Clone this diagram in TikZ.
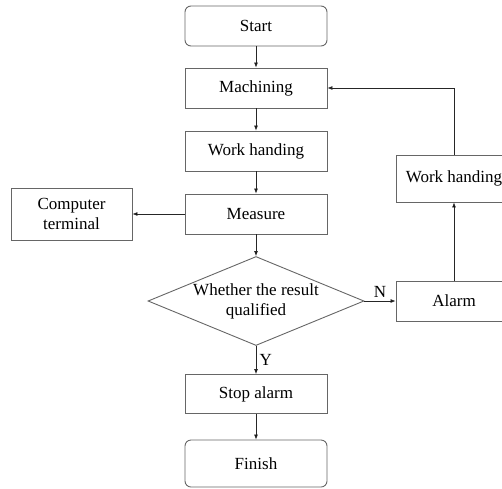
\documentclass[tikz,border=0pt]{standalone}
\usepackage{fontspec}
\setmainfont{Liberation Serif}
\usetikzlibrary{positioning, shapes.geometric, arrows.meta}

\begin{document}
\begin{tikzpicture}[x=1pt,y=-1pt,on grid,auto,font=\fontsize{17}{20}\selectfont,
    >={Latex[length=5pt,width=4pt]}]
    \tikzstyle{proc}=[shape=rectangle,draw=black!60,line width=0.9pt,minimum width=142pt,minimum height=40pt,inner sep=2pt,align=center]
    \tikzstyle{term}=[proc,rounded corners=6pt]
    \tikzstyle{side}=[proc,minimum width=116pt]
    \tikzstyle{decide}=[shape=diamond,draw=black!60,line width=0.9pt,aspect=2.43,inner sep=0pt,minimum width=216pt,minimum height=89pt,align=center]
    \tikzstyle{flow}=[->,draw=black!85,line width=0.7pt]

    \useasboundingbox (0,0) rectangle (502,488);

    \node[term] (start) at (256,26) {Start};
    \node[proc, below=62pt of start] (machining) {Machining};
    \node[proc, below=63pt of machining] (work1) {Work handing};
    \node[proc, below=63pt of work1] (measure) {Measure};
    \node[proc, left=184.5pt of measure, minimum width=121pt, minimum height=52pt] (computer) {Computer\\terminal};
    \node[decide, below=87pt of measure] (check) {Whether the result\\qualified};
    \node[side, right=198pt of check] (alarm) {Alarm};
    \node[side, above=122.5pt of alarm, minimum height=47pt] (work2) {Work handing};
    \node[proc, below=93pt of check, minimum height=39pt] (stop) {Stop alarm};
    \node[term, below=69.5pt of stop, minimum height=47pt] (finish) {Finish};

    \path[flow]
    (start) edge (machining)
    (machining) edge (work1)
    (work1) edge (measure)
    (measure) edge (computer)
    (measure) edge (check)
    (check) edge node[above] {N} (alarm)
    (check) edge node[right] {Y} (stop)
    (stop) edge (finish)
    (alarm) edge (work2)
    ;

    \draw[flow] (work2.north) |- (machining.east);

\end{tikzpicture}
\end{document}
